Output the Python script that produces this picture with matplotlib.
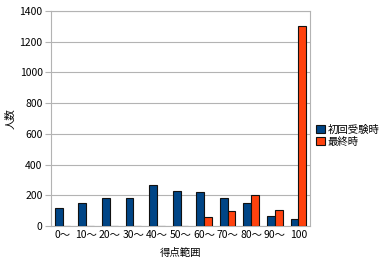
import matplotlib.pyplot as plt
import numpy as np

plt.rcParams['font.family'] = ['Noto Sans CJK JP', 'DejaVu Sans']

categories = ['0～', '10～', '20～', '30～', '40～', '50～', '60～', '70～', '80～', '90～', '100']
first = [120, 150, 180, 185, 265, 230, 220, 180, 150, 65, 45]
last = [0, 2, 0, 0, 0, 0, 55, 100, 200, 105, 1300]

fig = plt.figure(figsize=(3.8, 2.68), dpi=100)
ax = fig.add_axes([0.134, 0.157, 0.682, 0.802])

x = np.arange(len(categories))
w = 0.33
ax.bar(x - w / 2, first, w, color='#004586', edgecolor='#111111', linewidth=0.8,
       label='初回受験時', zorder=3)
ax.bar(x + w / 2, last, w, color='#ff420e', edgecolor='#111111', linewidth=0.8,
       label='最終時', zorder=3)

ax.set_xlim(-0.5, len(categories) - 0.5)
ax.set_ylim(0, 1400)
ax.set_yticks(range(0, 1401, 200))
ax.set_xticks(x)
ax.set_xticklabels(categories)
ax.tick_params(axis='x', length=0, labelsize=7.5, pad=3)
ax.tick_params(axis='y', length=4, color='#b3b3b3', labelsize=7.5, pad=2)
ax.yaxis.grid(True, color='#b3b3b3', linewidth=0.8, zorder=0)
for s in ax.spines.values():
    s.set_color('#b3b3b3')

ax.set_xlabel('得点範囲', fontsize=7.5, labelpad=6)
ax.set_ylabel('人数', fontsize=7.5, labelpad=3)

ax.legend(loc='center left', bbox_to_anchor=(1.0, 0.42), frameon=False,
          fontsize=7.5, handlelength=0.8, handleheight=0.8, handletextpad=0.3,
          borderaxespad=0.2, labelspacing=0.15)

fig.savefig('out.png')
